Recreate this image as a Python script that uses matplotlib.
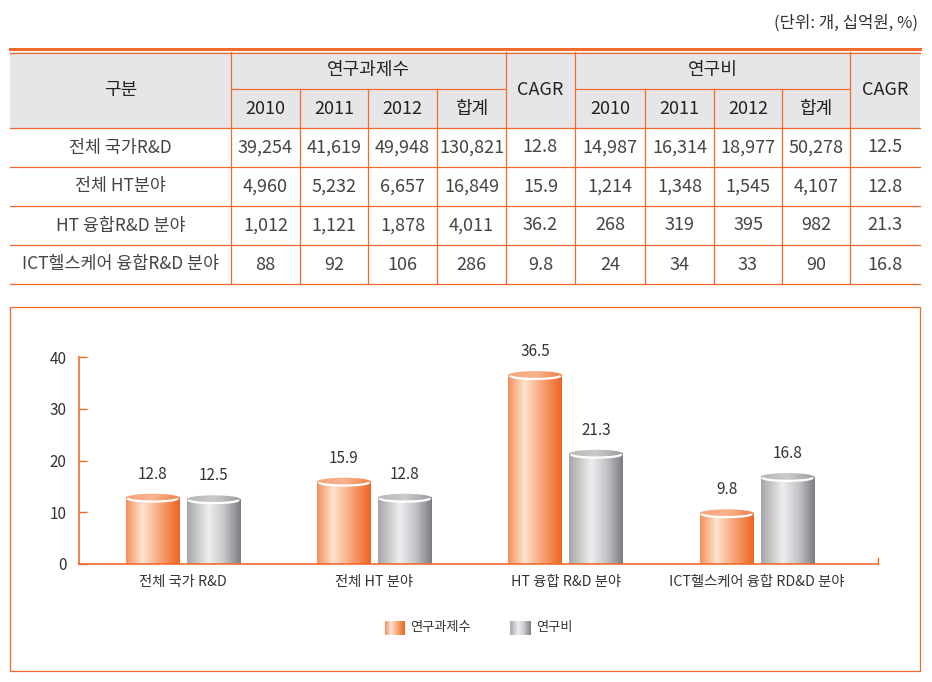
import numpy as np
import matplotlib
matplotlib.use('Agg')
import matplotlib.pyplot as plt
from matplotlib.patches import Rectangle, Ellipse, Arc
from matplotlib.colors import to_rgb

plt.rcParams['font.family'] = ['Noto Sans CJK KR', 'DejaVu Sans']

# table data
categories = ['전체 국가R&D', '전체 HT분야', 'HT 융합R&D 분야', 'ICT헬스케어 융합R&D 분야']
years = ['2010', '2011', '2012', '합계']
projects_2010 = [39254, 4960, 1012, 88]
projects_2011 = [41619, 5232, 1121, 92]
projects_2012 = [49948, 6657, 1878, 106]
projects_total = [130821, 16849, 4011, 286]
projects_cagr = [12.8, 15.9, 36.2, 9.8]
budget_2010 = [14987, 1214, 268, 24]
budget_2011 = [16314, 1348, 319, 34]
budget_2012 = [18977, 1545, 395, 33]
budget_total = [50278, 4107, 982, 90]
budget_cagr = [12.5, 12.8, 21.3, 16.8]

# chart data
chart_labels = ['전체 국가 R&D', '전체 HT 분야', 'HT 융합 R&D 분야', 'ICT헬스케어 융합 RD&D 분야']
chart_projects = [12.8, 15.9, 36.5, 9.8]
chart_budget = [12.5, 12.8, 21.3, 16.8]
series_names = ['연구과제수', '연구비']
y_ticks = [0, 10, 20, 30, 40]

ORANGE = '#F26B2C'
TXT = '#333333'
orange_stops = [(0.0, '#F4915E'), (0.3, '#FDE3D1'), (0.65, '#F7A273'), (1.0, '#EE6524')]
gray_stops = [(0.0, '#A6A7AA'), (0.4, '#EDEEEF'), (0.7, '#C3C4C7'), (1.0, '#7C7E81')]
orange_top = [(0.0, '#F6A27A'), (0.5, '#F9B48E'), (1.0, '#F08048')]
gray_top = [(0.0, '#B5B6B9'), (0.5, '#C9CACC'), (1.0, '#9A9C9F')]


def gradient(stops, n=64):
    pos = [s[0] for s in stops]
    cols = np.array([to_rgb(s[1]) for s in stops])
    t = np.linspace(0, 1, n)
    out = np.stack([np.interp(t, pos, cols[:, k]) for k in range(3)], axis=-1)
    return out[np.newaxis, :, :]


W, H = 932, 682
fig = plt.figure(figsize=(W / 100, H / 100), dpi=100)
bg = fig.add_axes([0, 0, 1, 1])
bg.axis('off')

# ---- table ----
bg.text(918, 23, '(단위: 개, 십억원, %)', ha='right', va='center', fontsize=12, color=TXT)

cols = [10, 231, 300, 368, 437, 506, 575, 645, 714, 782, 850, 920]
rows = [52, 89, 128, 167, 206, 245, 284]
bg.add_patch(Rectangle((10, 52), 910, 76, facecolor='#E6E6E8', edgecolor='none'))
bg.plot([10, 920], [48.5, 48.5], color=ORANGE, lw=2.2)
bg.plot([10, 920], [52.5, 52.5], color=ORANGE, lw=0.9)
for y in rows[2:]:
    bg.plot([10, 920], [y, y], color=ORANGE, lw=0.9)
bg.plot([231, 506], [89, 89], color=ORANGE, lw=0.9)
bg.plot([575, 850], [89, 89], color=ORANGE, lw=0.9)
for x in [231, 506, 575, 850]:
    bg.plot([x, x], [52, 284], color=ORANGE, lw=0.9)
for x in [300, 368, 437, 645, 714, 782]:
    bg.plot([x, x], [89, 284], color=ORANGE, lw=0.9)

hfs = 13
hc = '#222222'
bg.text((10 + 231) / 2, 90, '구분', ha='center', va='center', fontsize=hfs, color=hc)
bg.text((231 + 506) / 2, 70, series_names[0], ha='center', va='center', fontsize=hfs, color=hc)
bg.text((575 + 850) / 2, 70, series_names[1], ha='center', va='center', fontsize=hfs, color=hc)
bg.text((506 + 575) / 2, 90, 'CAGR', ha='center', va='center', fontsize=hfs, color=hc)
bg.text((850 + 920) / 2, 90, 'CAGR', ha='center', va='center', fontsize=hfs, color=hc)
for j, yr in enumerate(years):
    bg.text((cols[1 + j] + cols[2 + j]) / 2, 108.5, yr, ha='center', va='center', fontsize=hfs, color=hc)
    bg.text((cols[6 + j] + cols[7 + j]) / 2, 108.5, yr, ha='center', va='center', fontsize=hfs, color=hc)

for i, cat in enumerate(categories):
    cells = [cat,
             f'{projects_2010[i]:,}', f'{projects_2011[i]:,}', f'{projects_2012[i]:,}',
             f'{projects_total[i]:,}', f'{projects_cagr[i]:.1f}',
             f'{budget_2010[i]:,}', f'{budget_2011[i]:,}', f'{budget_2012[i]:,}',
             f'{budget_total[i]:,}', f'{budget_cagr[i]:.1f}']
    yc = (rows[2 + i] + rows[3 + i]) / 2
    for j, s in enumerate(cells):
        fs = 12.5 if j == 0 else 13
        bg.text((cols[j] + cols[j + 1]) / 2, yc, s, ha='center', va='center', fontsize=fs, color='#444444')

# ---- chart box ----
bg.add_patch(Rectangle((10, 307), 910, 364, fill=False, edgecolor=ORANGE, lw=0.9))

# legend swatches
bg.imshow(gradient(orange_stops), extent=(385, 405, 635, 621), aspect='auto', interpolation='bilinear')
bg.imshow(gradient(gray_stops), extent=(510, 531, 635, 621), aspect='auto', interpolation='bilinear')
bg.text(410, 628, series_names[0], ha='left', va='center', fontsize=9.5, color=TXT)
bg.text(536, 628, series_names[1], ha='left', va='center', fontsize=9.5, color=TXT)
bg.set_xlim(0, W)
bg.set_ylim(H, 0)

# ---- chart axes ----
ax = fig.add_axes([79 / W, 1 - 564 / H, 799 / W, 207 / H])
ax.set_facecolor('none')

x = np.arange(len(chart_labels))
bw = 0.282
off = 0.159
eh = 1.55


def cylinder(xc, h, stops, top_stops):
    x0 = xc - bw / 2
    ax.imshow(gradient(stops), extent=(x0, x0 + bw, 0, h), aspect='auto',
              interpolation='bilinear', zorder=2)
    top = Ellipse((xc, h), bw, eh, transform=ax.transData)
    im = ax.imshow(gradient(top_stops), extent=(x0, x0 + bw, h - eh / 2, h + eh / 2),
                   aspect='auto', interpolation='bilinear', zorder=3)
    im.set_clip_path(top)
    ax.add_patch(Arc((xc, h - eh * 0.05), bw * 0.94, eh * 0.85, theta1=190, theta2=350,
                     color='white', lw=1.6, zorder=4))


for i in range(len(x)):
    cylinder(x[i] - off, chart_projects[i], orange_stops, orange_top)
    cylinder(x[i] + off, chart_budget[i], gray_stops, gray_top)
    ax.annotate(f'{chart_projects[i]:.1f}', (x[i] - off, chart_projects[i]), xytext=(0, 17),
                textcoords='offset points', ha='center', va='center', fontsize=11, color=TXT)
    ax.annotate(f'{chart_budget[i]:.1f}', (x[i] + off, chart_budget[i]), xytext=(0, 17),
                textcoords='offset points', ha='center', va='center', fontsize=11, color=TXT)

ax.set_xlim(-0.544, 3.632)
ax.set_ylim(0, 40)
ax.set_yticks(y_ticks)
ax.set_xticks(x)
ax.set_xticklabels(chart_labels)
for s in ['top', 'right']:
    ax.spines[s].set_visible(False)
for s in ['left', 'bottom']:
    ax.spines[s].set_color(ORANGE)
    ax.spines[s].set_linewidth(1.2)
ax.tick_params(axis='y', direction='in', length=6, width=1, color=ORANGE, pad=9,
               labelsize=11, labelcolor=TXT)
ax.tick_params(axis='x', length=0, pad=8, labelsize=10.3, labelcolor=TXT)
ax.plot([1, 1], [0, 0.03], transform=ax.transAxes, color=ORANGE, lw=1, clip_on=False)

fig.savefig('out.png', dpi=100)
